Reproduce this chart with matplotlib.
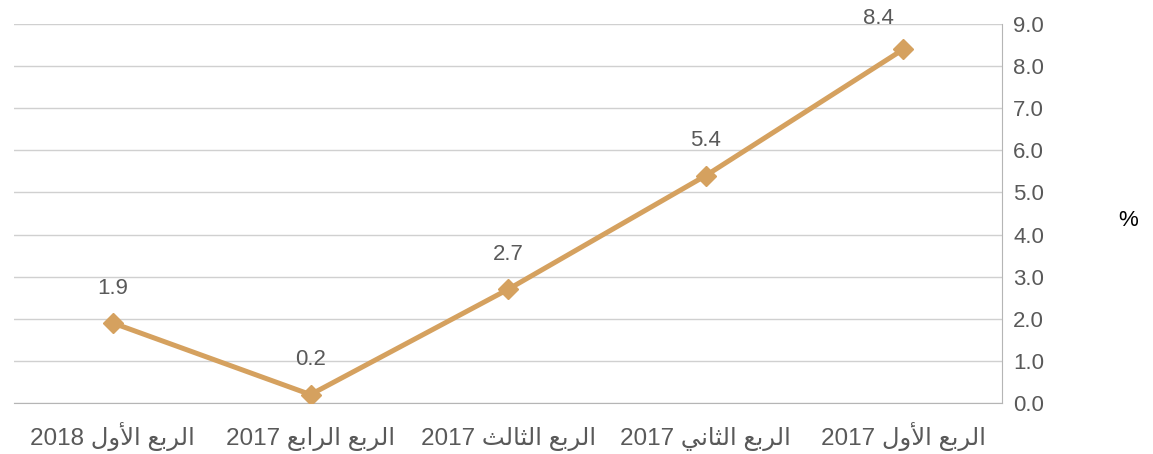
import matplotlib
matplotlib.use("Agg")
import matplotlib.pyplot as plt

# data, in Arabic reading order (right to left on the chart)
quarters = ["الربع الأول 2017", "الربع الثاني 2017", "الربع الثالث 2017",
            "الربع الرابع 2017", "الربع الأول 2018"]
growth = [8.4, 5.4, 2.7, 0.2, 1.9]
y_ticks = [0, 1, 2, 3, 4, 5, 6, 7, 8, 9]

# simple Arabic shaping (matplotlib has no bidi / joining support)
FORMS = {
    "ا": ("\uFE8D", "\uFE8E", None, None),
    "أ": ("\uFE83", "\uFE84", None, None),
    "ر": ("\uFEAD", "\uFEAE", None, None),
    "و": ("\uFEED", "\uFEEE", None, None),
    "ل": ("\uFEDD", "\uFEDE", "\uFEDF", "\uFEE0"),
    "ب": ("\uFE8F", "\uFE90", "\uFE91", "\uFE92"),
    "ع": ("\uFEC9", "\uFECA", "\uFECB", "\uFECC"),
    "ث": ("\uFE99", "\uFE9A", "\uFE9B", "\uFE9C"),
    "ن": ("\uFEE5", "\uFEE6", "\uFEE7", "\uFEE8"),
    "ي": ("\uFEF1", "\uFEF2", "\uFEF3", "\uFEF4"),
    "لا": ("\uFEFB", "\uFEFC", None, None),
    "لأ": ("\uFEF7", "\uFEF8", None, None),
}


def shape_word(word):
    letters = []
    i = 0
    while i < len(word):
        if word[i] == "ل" and i + 1 < len(word) and word[i + 1] in "اأ":
            letters.append(word[i:i + 2])
            i += 2
        else:
            letters.append(word[i])
            i += 1
    out = []
    for k, ch in enumerate(letters):
        if ch not in FORMS:
            out.append(ch)
            continue
        iso, fin, ini, med = FORMS[ch]
        prev_joins = k > 0 and letters[k - 1] in FORMS and FORMS[letters[k - 1]][2] is not None
        next_joins = ini is not None and k + 1 < len(letters) and letters[k + 1] in FORMS
        if prev_joins and next_joins:
            out.append(med)
        elif prev_joins:
            out.append(fin)
        elif next_joins:
            out.append(ini)
        else:
            out.append(iso)
    return "".join(out)


def rtl(text):
    parts = []
    for tok in reversed(text.split(" ")):
        if tok.isdigit():
            parts.append(tok)
        else:
            parts.append(shape_word(tok)[::-1])
    return " ".join(parts)


plt.rcParams["font.family"] = ["Liberation Sans", "DejaVu Sans"]

fig = plt.figure(figsize=(11.53, 4.54), dpi=100)
ax = fig.add_axes([0.0122, 0.1123, 0.857, 0.8348])

x = list(range(len(growth)))
ax.plot(x, growth, color="#D5A15F", lw=3.6, marker="D", markersize=10.5,
        solid_capstyle="round", zorder=3)

for xi, v in zip(x, growth):
    # top label sits a bit left and lower so it stays inside the figure
    off = (-18, 22) if v == max(growth) else (0, 25)
    ax.annotate(f"{v:.1f}", (xi, v), xytext=off, textcoords="offset points",
                ha="center", va="center", fontsize=16, color="#595959")

ax.set_xlim(len(growth) - 0.5, -0.5)
ax.set_ylim(0, 9)
ax.set_xticks(x)
ax.set_xticklabels([rtl(q) for q in quarters], fontsize=17.5, color="#595959")
for lab in ax.get_xticklabels():
    lab.set_verticalalignment("baseline")
ax.set_yticks(y_ticks)
ax.set_yticklabels([f"{t:.1f}" for t in y_ticks], fontsize=16, color="#595959")
ax.yaxis.tick_right()
ax.tick_params(axis="both", length=0)
ax.tick_params(axis="x", pad=30)
ax.tick_params(axis="y", pad=8)

ax.grid(axis="y", color="#D0D0D0", lw=1)
ax.set_axisbelow(True)
for s in ["top", "left"]:
    ax.spines[s].set_visible(False)
ax.spines["right"].set_color("#B5B5B5")
ax.spines["bottom"].set_color("#B5B5B5")

fig.text(1128 / 1153, 1 - 220 / 454, "%", ha="center", va="center", fontsize=16, color="black")

fig.savefig("out.png", dpi=100)
